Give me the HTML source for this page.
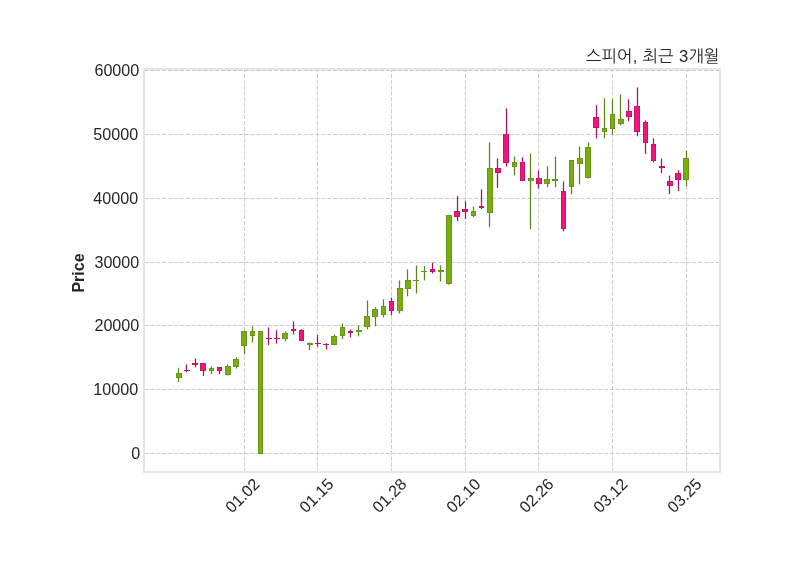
<!DOCTYPE html>
<html lang="ko"><head><meta charset="utf-8"><title>스피어, 최근 3개월</title>
<style>
html,body{margin:0;padding:0;background:#fff;}
body{width:800px;height:575px;overflow:hidden;}
svg{display:block;}
text{font-family:"Liberation Sans","NanumGothic",sans-serif;fill:#262626;}
.t{font-family:"Liberation Sans","NanumGothic",sans-serif;}
</style></head><body>
<svg width="800" height="575" viewBox="0 0 800 575">
<rect width="800" height="575" fill="#ffffff"/>

<g stroke="#cccccc" stroke-width="1" stroke-dasharray="4.11 1.78" fill="none">
<line x1="244.5" y1="471.5" x2="244.5" y2="69" stroke-dashoffset="1"/>
<line x1="317.5" y1="471.5" x2="317.5" y2="69" stroke-dashoffset="1"/>
<line x1="391.5" y1="471.5" x2="391.5" y2="69" stroke-dashoffset="1"/>
<line x1="465.5" y1="471.5" x2="465.5" y2="69" stroke-dashoffset="1"/>
<line x1="538.5" y1="471.5" x2="538.5" y2="69" stroke-dashoffset="1"/>
<line x1="612.5" y1="471.5" x2="612.5" y2="69" stroke-dashoffset="1"/>
<line x1="686.5" y1="471.5" x2="686.5" y2="69" stroke-dashoffset="1"/>
<line x1="144" y1="453.5" x2="720" y2="453.5" stroke-dashoffset="-0.5"/>
<line x1="144" y1="389.5" x2="720" y2="389.5" stroke-dashoffset="-0.5"/>
<line x1="144" y1="325.5" x2="720" y2="325.5" stroke-dashoffset="-0.5"/>
<line x1="144" y1="262.5" x2="720" y2="262.5" stroke-dashoffset="-0.5"/>
<line x1="144" y1="198.5" x2="720" y2="198.5" stroke-dashoffset="-0.5"/>
<line x1="144" y1="134.5" x2="720" y2="134.5" stroke-dashoffset="-0.5"/>
<line x1="144" y1="70.5" x2="720" y2="70.5" stroke-dashoffset="-0.5"/>
</g>
<line x1="178.5" y1="368.3" x2="178.5" y2="382.3" stroke="#5c8516" stroke-width="1.25"/>
<rect x="176" y="373" width="6" height="5" fill="#68951a"/>
<rect x="177" y="374" width="4" height="3" fill="#78ae0e"/>
<line x1="186.5" y1="364.6" x2="186.5" y2="372.4" stroke="#a3145a" stroke-width="1.25"/>
<rect x="184" y="370" width="6" height="1" fill="#c41566"/>
<line x1="195.5" y1="358.4" x2="195.5" y2="367.3" stroke="#a3145a" stroke-width="1.25"/>
<rect x="192" y="363" width="6" height="2" fill="#c41566"/>
<line x1="203.5" y1="363.0" x2="203.5" y2="375.9" stroke="#a3145a" stroke-width="1.25"/>
<rect x="200" y="363" width="6" height="8" fill="#c41566"/>
<rect x="201" y="364" width="4" height="6" fill="#f4147f"/>
<line x1="211.5" y1="366.4" x2="211.5" y2="374.2" stroke="#5c8516" stroke-width="1.25"/>
<rect x="209" y="368" width="5" height="3" fill="#68951a"/>
<rect x="210" y="369" width="3" height="1" fill="#78ae0e"/>
<line x1="219.5" y1="367.1" x2="219.5" y2="374.2" stroke="#a3145a" stroke-width="1.25"/>
<rect x="217" y="367" width="5" height="4" fill="#c41566"/>
<rect x="218" y="368" width="3" height="2" fill="#f4147f"/>
<line x1="227.5" y1="364.6" x2="227.5" y2="375.6" stroke="#5c8516" stroke-width="1.25"/>
<rect x="225" y="366" width="6" height="9" fill="#68951a"/>
<rect x="226" y="367" width="4" height="7" fill="#78ae0e"/>
<line x1="236.5" y1="357.2" x2="236.5" y2="368.5" stroke="#5c8516" stroke-width="1.25"/>
<rect x="233" y="359" width="6" height="8" fill="#68951a"/>
<rect x="234" y="360" width="4" height="6" fill="#78ae0e"/>
<line x1="244.5" y1="331.0" x2="244.5" y2="354.2" stroke="#5c8516" stroke-width="1.25"/>
<rect x="241" y="331" width="6" height="15" fill="#68951a"/>
<rect x="242" y="332" width="4" height="13" fill="#78ae0e"/>
<line x1="252.5" y1="326.25" x2="252.5" y2="342.5" stroke="#5c8516" stroke-width="1.25"/>
<rect x="250" y="331" width="5" height="5" fill="#68951a"/>
<rect x="251" y="332" width="3" height="3" fill="#78ae0e"/>
<line x1="260.5" y1="331.0" x2="260.5" y2="453.5" stroke="#5c8516" stroke-width="1.25"/>
<rect x="258" y="331" width="5" height="123" fill="#68951a"/>
<rect x="259" y="332" width="3" height="121" fill="#78ae0e"/>
<line x1="268.5" y1="327.5" x2="268.5" y2="345.25" stroke="#a3145a" stroke-width="1.25"/>
<rect x="266" y="338" width="6" height="1" fill="#c41566"/>
<line x1="276.5" y1="330.25" x2="276.5" y2="343.5" stroke="#a3145a" stroke-width="1.25"/>
<rect x="274" y="338" width="6" height="1" fill="#c41566"/>
<line x1="285.5" y1="331.25" x2="285.5" y2="341.25" stroke="#5c8516" stroke-width="1.25"/>
<rect x="282" y="333" width="6" height="6" fill="#68951a"/>
<rect x="283" y="334" width="4" height="4" fill="#78ae0e"/>
<line x1="293.5" y1="321.5" x2="293.5" y2="334.4" stroke="#a3145a" stroke-width="1.25"/>
<rect x="291" y="329" width="5" height="2" fill="#c41566"/>
<line x1="301.5" y1="329.2" x2="301.5" y2="341.2" stroke="#a3145a" stroke-width="1.25"/>
<rect x="299" y="330" width="5" height="11" fill="#c41566"/>
<rect x="300" y="331" width="3" height="9" fill="#f4147f"/>
<line x1="309.5" y1="342.5" x2="309.5" y2="350.25" stroke="#5c8516" stroke-width="1.25"/>
<rect x="307" y="343" width="6" height="2" fill="#68951a"/>
<line x1="317.5" y1="335.0" x2="317.5" y2="346.6" stroke="#a3145a" stroke-width="1.25"/>
<rect x="315" y="343" width="6" height="1" fill="#c41566"/>
<line x1="326.5" y1="343.1" x2="326.5" y2="349.4" stroke="#a3145a" stroke-width="1.25"/>
<rect x="323" y="344" width="6" height="1" fill="#c41566"/>
<line x1="334.5" y1="334.4" x2="334.5" y2="344.6" stroke="#5c8516" stroke-width="1.25"/>
<rect x="331" y="336" width="6" height="9" fill="#68951a"/>
<rect x="332" y="337" width="4" height="7" fill="#78ae0e"/>
<line x1="342.5" y1="323.5" x2="342.5" y2="339.1" stroke="#5c8516" stroke-width="1.25"/>
<rect x="340" y="327" width="5" height="9" fill="#68951a"/>
<rect x="341" y="328" width="3" height="7" fill="#78ae0e"/>
<line x1="350.5" y1="329.4" x2="350.5" y2="337.5" stroke="#a3145a" stroke-width="1.25"/>
<rect x="348" y="331" width="5" height="2" fill="#c41566"/>
<line x1="358.5" y1="325.6" x2="358.5" y2="336.25" stroke="#5c8516" stroke-width="1.25"/>
<rect x="356" y="330" width="6" height="2" fill="#68951a"/>
<line x1="367.5" y1="300.4" x2="367.5" y2="329.4" stroke="#5c8516" stroke-width="1.25"/>
<rect x="364" y="316" width="6" height="11" fill="#68951a"/>
<rect x="365" y="317" width="4" height="9" fill="#78ae0e"/>
<line x1="375.5" y1="307.25" x2="375.5" y2="326.25" stroke="#5c8516" stroke-width="1.25"/>
<rect x="372" y="309" width="6" height="8" fill="#68951a"/>
<rect x="373" y="310" width="4" height="6" fill="#78ae0e"/>
<line x1="383.5" y1="299.4" x2="383.5" y2="317.5" stroke="#5c8516" stroke-width="1.25"/>
<rect x="381" y="306" width="5" height="9" fill="#68951a"/>
<rect x="382" y="307" width="3" height="7" fill="#78ae0e"/>
<line x1="391.5" y1="297.5" x2="391.5" y2="315.25" stroke="#a3145a" stroke-width="1.25"/>
<rect x="389" y="301" width="5" height="10" fill="#c41566"/>
<rect x="390" y="302" width="3" height="8" fill="#f4147f"/>
<line x1="399.5" y1="280.4" x2="399.5" y2="313.5" stroke="#5c8516" stroke-width="1.25"/>
<rect x="397" y="288" width="6" height="23" fill="#68951a"/>
<rect x="398" y="289" width="4" height="21" fill="#78ae0e"/>
<line x1="407.5" y1="269.4" x2="407.5" y2="296.25" stroke="#5c8516" stroke-width="1.25"/>
<rect x="405" y="280" width="6" height="9" fill="#68951a"/>
<rect x="406" y="281" width="4" height="7" fill="#78ae0e"/>
<line x1="416.5" y1="265.4" x2="416.5" y2="293.5" stroke="#5c8516" stroke-width="1.25"/>
<rect x="413" y="280" width="6" height="1" fill="#68951a"/>
<line x1="424.5" y1="266.25" x2="424.5" y2="280.4" stroke="#5c8516" stroke-width="1.25"/>
<rect x="421" y="271" width="6" height="1" fill="#68951a"/>
<line x1="432.5" y1="262.5" x2="432.5" y2="273.5" stroke="#a3145a" stroke-width="1.25"/>
<rect x="430" y="269" width="5" height="3" fill="#c41566"/>
<rect x="431" y="270" width="3" height="1" fill="#f4147f"/>
<line x1="440.5" y1="265.4" x2="440.5" y2="281.5" stroke="#5c8516" stroke-width="1.25"/>
<rect x="438" y="270" width="6" height="2" fill="#68951a"/>
<line x1="448.5" y1="215.0" x2="448.5" y2="284.6" stroke="#5c8516" stroke-width="1.25"/>
<rect x="446" y="215" width="6" height="69" fill="#68951a"/>
<rect x="447" y="216" width="4" height="67" fill="#78ae0e"/>
<line x1="457.5" y1="196.25" x2="457.5" y2="221.25" stroke="#a3145a" stroke-width="1.25"/>
<rect x="454" y="211" width="6" height="6" fill="#c41566"/>
<rect x="455" y="212" width="4" height="4" fill="#f4147f"/>
<line x1="465.5" y1="201.25" x2="465.5" y2="219.0" stroke="#a3145a" stroke-width="1.25"/>
<rect x="462" y="209" width="6" height="3" fill="#c41566"/>
<rect x="463" y="210" width="4" height="1" fill="#f4147f"/>
<line x1="473.5" y1="206.5" x2="473.5" y2="217.25" stroke="#5c8516" stroke-width="1.25"/>
<rect x="471" y="211" width="5" height="5" fill="#68951a"/>
<rect x="472" y="212" width="3" height="3" fill="#78ae0e"/>
<line x1="481.5" y1="189.4" x2="481.5" y2="209.1" stroke="#a3145a" stroke-width="1.25"/>
<rect x="479" y="206" width="5" height="2" fill="#c41566"/>
<line x1="489.5" y1="142.5" x2="489.5" y2="227.25" stroke="#5c8516" stroke-width="1.25"/>
<rect x="487" y="168" width="6" height="45" fill="#68951a"/>
<rect x="488" y="169" width="4" height="43" fill="#78ae0e"/>
<line x1="497.5" y1="158.4" x2="497.5" y2="188.1" stroke="#a3145a" stroke-width="1.25"/>
<rect x="495" y="168" width="6" height="5" fill="#c41566"/>
<rect x="496" y="169" width="4" height="3" fill="#f4147f"/>
<line x1="506.5" y1="108.4" x2="506.5" y2="166.6" stroke="#a3145a" stroke-width="1.25"/>
<rect x="503" y="134" width="6" height="29" fill="#c41566"/>
<rect x="504" y="135" width="4" height="27" fill="#f4147f"/>
<line x1="514.5" y1="156.5" x2="514.5" y2="175.25" stroke="#5c8516" stroke-width="1.25"/>
<rect x="512" y="162" width="5" height="5" fill="#68951a"/>
<rect x="513" y="163" width="3" height="3" fill="#78ae0e"/>
<line x1="522.5" y1="157.25" x2="522.5" y2="181.2" stroke="#a3145a" stroke-width="1.25"/>
<rect x="520" y="162" width="5" height="19" fill="#c41566"/>
<rect x="521" y="163" width="3" height="17" fill="#f4147f"/>
<line x1="530.5" y1="153.4" x2="530.5" y2="229.0" stroke="#5c8516" stroke-width="1.25"/>
<rect x="528" y="178" width="6" height="3" fill="#68951a"/>
<rect x="529" y="179" width="4" height="1" fill="#78ae0e"/>
<line x1="538.5" y1="170.6" x2="538.5" y2="188.5" stroke="#a3145a" stroke-width="1.25"/>
<rect x="536" y="178" width="6" height="6" fill="#c41566"/>
<rect x="537" y="179" width="4" height="4" fill="#f4147f"/>
<line x1="547.5" y1="166.25" x2="547.5" y2="187.25" stroke="#5c8516" stroke-width="1.25"/>
<rect x="544" y="179" width="6" height="5" fill="#68951a"/>
<rect x="545" y="180" width="4" height="3" fill="#78ae0e"/>
<line x1="555.5" y1="156.5" x2="555.5" y2="187.25" stroke="#5c8516" stroke-width="1.25"/>
<rect x="552" y="179" width="6" height="2" fill="#68951a"/>
<line x1="563.5" y1="181.5" x2="563.5" y2="231.25" stroke="#a3145a" stroke-width="1.25"/>
<rect x="561" y="191" width="5" height="38" fill="#c41566"/>
<rect x="562" y="192" width="3" height="36" fill="#f4147f"/>
<line x1="571.5" y1="160.0" x2="571.5" y2="194.4" stroke="#5c8516" stroke-width="1.25"/>
<rect x="569" y="160" width="5" height="27" fill="#68951a"/>
<rect x="570" y="161" width="3" height="25" fill="#78ae0e"/>
<line x1="579.5" y1="146.5" x2="579.5" y2="184.4" stroke="#5c8516" stroke-width="1.25"/>
<rect x="577" y="158" width="6" height="6" fill="#68951a"/>
<rect x="578" y="159" width="4" height="4" fill="#78ae0e"/>
<line x1="588.5" y1="142.3" x2="588.5" y2="178.5" stroke="#5c8516" stroke-width="1.25"/>
<rect x="585" y="147" width="6" height="31" fill="#68951a"/>
<rect x="586" y="148" width="4" height="29" fill="#78ae0e"/>
<line x1="596.5" y1="105.25" x2="596.5" y2="138.4" stroke="#a3145a" stroke-width="1.25"/>
<rect x="593" y="117" width="6" height="11" fill="#c41566"/>
<rect x="594" y="118" width="4" height="9" fill="#f4147f"/>
<line x1="604.5" y1="98.4" x2="604.5" y2="138.4" stroke="#5c8516" stroke-width="1.25"/>
<rect x="602" y="128" width="5" height="4" fill="#68951a"/>
<rect x="603" y="129" width="3" height="2" fill="#78ae0e"/>
<line x1="612.5" y1="99.4" x2="612.5" y2="134.4" stroke="#5c8516" stroke-width="1.25"/>
<rect x="610" y="114" width="5" height="15" fill="#68951a"/>
<rect x="611" y="115" width="3" height="13" fill="#78ae0e"/>
<line x1="620.5" y1="94.4" x2="620.5" y2="125.25" stroke="#5c8516" stroke-width="1.25"/>
<rect x="618" y="119" width="6" height="5" fill="#68951a"/>
<rect x="619" y="120" width="4" height="3" fill="#78ae0e"/>
<line x1="628.5" y1="99.4" x2="628.5" y2="121.25" stroke="#a3145a" stroke-width="1.25"/>
<rect x="626" y="111" width="6" height="6" fill="#c41566"/>
<rect x="627" y="112" width="4" height="4" fill="#f4147f"/>
<line x1="637.5" y1="87.5" x2="637.5" y2="136.25" stroke="#a3145a" stroke-width="1.25"/>
<rect x="634" y="106" width="6" height="26" fill="#c41566"/>
<rect x="635" y="107" width="4" height="24" fill="#f4147f"/>
<line x1="645.5" y1="120.4" x2="645.5" y2="154.0" stroke="#a3145a" stroke-width="1.25"/>
<rect x="643" y="122" width="5" height="21" fill="#c41566"/>
<rect x="644" y="123" width="3" height="19" fill="#f4147f"/>
<line x1="653.5" y1="138.4" x2="653.5" y2="162.25" stroke="#a3145a" stroke-width="1.25"/>
<rect x="651" y="144" width="5" height="17" fill="#c41566"/>
<rect x="652" y="145" width="3" height="15" fill="#f4147f"/>
<line x1="661.5" y1="158.5" x2="661.5" y2="173.1" stroke="#a3145a" stroke-width="1.25"/>
<rect x="659" y="166" width="6" height="2" fill="#c41566"/>
<line x1="669.5" y1="175.6" x2="669.5" y2="194.1" stroke="#a3145a" stroke-width="1.25"/>
<rect x="667" y="181" width="6" height="5" fill="#c41566"/>
<rect x="668" y="182" width="4" height="3" fill="#f4147f"/>
<line x1="678.5" y1="170.25" x2="678.5" y2="191.0" stroke="#a3145a" stroke-width="1.25"/>
<rect x="675" y="173" width="6" height="7" fill="#c41566"/>
<rect x="676" y="174" width="4" height="5" fill="#f4147f"/>
<line x1="686.5" y1="150.6" x2="686.5" y2="186.25" stroke="#5c8516" stroke-width="1.25"/>
<rect x="683" y="158" width="6" height="22" fill="#68951a"/>
<rect x="684" y="159" width="4" height="20" fill="#78ae0e"/>
<rect x="144" y="69" width="576" height="403" fill="none" stroke="#e5e5e5" stroke-width="2"/>
<text x="140.20" y="459.25" font-size="16.15" text-anchor="end">0</text>
<text x="138.20" y="395.25" font-size="16.15" text-anchor="end">10000</text>
<text x="139.30" y="331.25" font-size="16.15" text-anchor="end">20000</text>
<text x="139.30" y="268.25" font-size="16.15" text-anchor="end">30000</text>
<text x="138.20" y="204.25" font-size="16.15" text-anchor="end">40000</text>
<text x="138.20" y="140.25" font-size="16.15" text-anchor="end">50000</text>
<text x="139.30" y="76.25" font-size="16.15" text-anchor="end">60000</text>
<text transform="translate(242.30 495.4) rotate(-45)" font-size="16.15" text-anchor="middle" y="5.75">01.02</text>
<text transform="translate(316.30 495.4) rotate(-45)" font-size="16.15" text-anchor="middle" y="5.75">01.15</text>
<text transform="translate(389.30 495.4) rotate(-45)" font-size="16.15" text-anchor="middle" y="5.75">01.28</text>
<text transform="translate(463.30 495.4) rotate(-45)" font-size="16.15" text-anchor="middle" y="5.75">02.10</text>
<text transform="translate(536.30 495.4) rotate(-45)" font-size="16.15" text-anchor="middle" y="5.75">02.26</text>
<text transform="translate(610.30 495.4) rotate(-45)" font-size="16.15" text-anchor="middle" y="5.75">03.12</text>
<text transform="translate(684.30 495.4) rotate(-45)" font-size="16.15" text-anchor="middle" y="5.75">03.25</text>
<text transform="translate(84.3 273.0) rotate(-90)" font-size="16" font-weight="bold" text-anchor="middle">Price</text>
<text class="t" x="719.4" y="61.8" font-size="16.6" word-spacing="0.65" text-anchor="end">스피어, 최근 3개월</text>
</svg></body></html>
